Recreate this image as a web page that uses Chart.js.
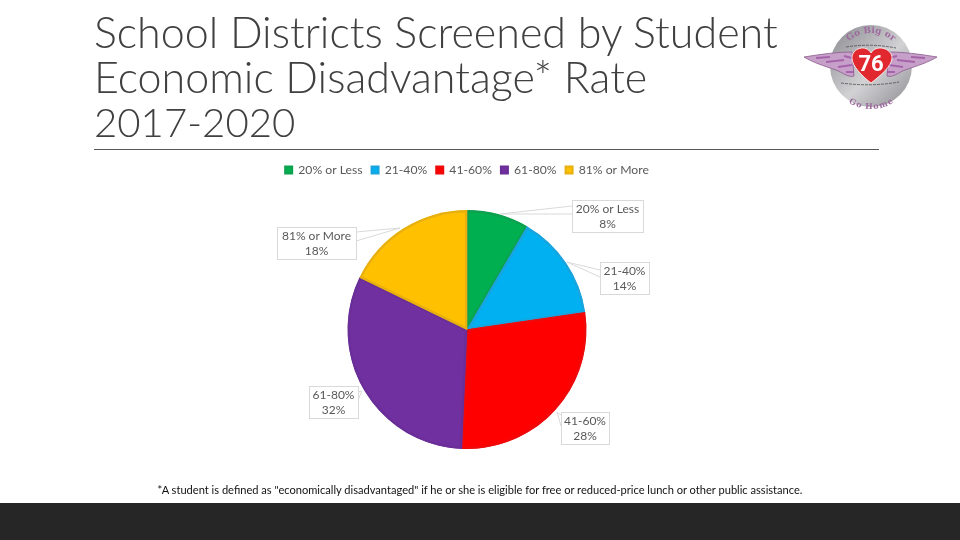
<!DOCTYPE html>
<html>
<head>
  <title>School Districts Screened by Student Economic Disadvantage* Rate 2017-2020</title>
  <script src="https://cdn.jsdelivr.net/npm/chart.js@4/dist/chart.umd.min.js"></script>
  <style>
    html, body { margin: 0; padding: 0; background: #fff; }
    #slide { position: relative; width: 960px; height: 540px; overflow: hidden; font-family: Lato, sans-serif; }
    #heading { position: absolute; left: 94px; top: 10px; margin: 0; font-size: 43px; line-height: 44.5px; font-weight: 300; color: #404040; white-space: nowrap; }
    #heading span { font-size: 40.2px; }
    #rule { position: absolute; left: 94px; top: 149px; width: 785px; height: 1px; background: #595959; }
    #note { position: absolute; left: 0; width: 960px; top: 483px; text-align: center; font-size: 11.1px; color: #111; }
    #band { position: absolute; left: 0; top: 503px; width: 960px; height: 37px; background: #262626; }
    #logo { position: absolute; left: 800px; top: 20px; }
    canvas { position: absolute; left: 0; top: 0; }
  </style>
</head>
<body>
<div id="slide">
  <canvas id="pieChart" width="960" height="540"></canvas>
  <h1 id="heading">School Districts Screened by Student<br>Economic Disadvantage* Rate<br><span>2017-2020</span></h1>
  <div id="rule"></div>
  <svg id="logo" width="140" height="92" viewBox="0 0 140 92">
    <defs>
      <linearGradient id="disc" x1="0" y1="0" x2="1" y2="1">
        <stop offset="0" stop-color="#88888d"/>
        <stop offset="0.55" stop-color="#d2d2d5"/>
        <stop offset="1" stop-color="#8c8c91"/>
      </linearGradient>
      <path id="topArc" d="M 38 46 A 33 33 0 0 1 104 46"/>
      <path id="bottomArc" d="M 34 46 A 37 37 0 0 0 108 46"/>
    </defs>
    <circle cx="71" cy="46" r="41" fill="url(#disc)"/>
    <path d="M 4 37 C 22 34 38 32 52 32 L 54 56 C 48 58 42 52 36 50 C 24 46 12 42 4 37 Z" fill="#c7a0c9" stroke="#8a5a8c" stroke-width="0.8"/>
    <path d="M 137 37 C 119 34 103 32 89 32 L 87 56 C 93 58 99 52 105 50 C 117 46 129 42 137 37 Z" fill="#c7a0c9" stroke="#8a5a8c" stroke-width="0.8"/>
    <g stroke="#9a4fa0" stroke-width="2" fill="none" opacity="0.75">
      <path d="M 16 38 L 30 37 M 26 42 L 44 40 M 38 47 L 52 45 M 44 36 L 52 38 M 46 52 L 54 52"/>
      <path d="M 125 38 L 111 37 M 115 42 L 97 40 M 103 47 L 89 45 M 97 36 L 89 38 M 95 52 L 87 52"/>
    </g>
    <path d="M 71 63 C 62 56 52 46 52 38 C 52 28 66 24 71 33 C 76 24 92 28 92 38 C 92 46 80 56 71 63 Z" fill="#e0282e" stroke="#fff" stroke-width="0.8"/>
    <text x="71" y="51" text-anchor="middle" font-family="Roboto" font-weight="700" font-size="22" fill="#fff">76</text>
    <g stroke="#4a4a4a" stroke-width="0.8" stroke-dasharray="3 1" fill="none">
      <path d="M 46 27 Q 71 23 96 28"/>
      <path d="M 41 63 Q 71 67 99 62"/>
    </g>
    <text font-family="DejaVu Serif" font-weight="700" font-size="9" fill="#9d6a9f"><textPath href="#topArc" startOffset="50%" text-anchor="middle">Go Big or</textPath></text>
    <text font-family="DejaVu Serif" font-weight="700" font-size="8" fill="#9d6a9f" dy="6"><textPath href="#bottomArc" startOffset="50%" text-anchor="middle">Go Home</textPath></text>
  </svg>
  <div id="note">*A student is defined as "economically disadvantaged" if he or she is eligible for free or reduced-price lunch or other public assistance.</div>
  <div id="band"></div>
</div>

<script>
  const categories = ['20% or Less', '21-40%', '41-60%', '61-80%', '81% or More'];
  const shares = [8.4, 14.3, 28, 31.5, 17.8];

  const sliceColors = ['#00B050', '#00B0F0', '#FF0000', '#7030A0', '#FFC000'];
  const sliceEdges = ['#0DA04F', '#1AA3DC', '#EE0A0A', '#6A2E98', '#E8B00E'];

  // label boxes, page pixels: box x, y, w, h and the callout wedge (tip, then two base points)
  const callouts = [
    { box: [572, 200, 71, 32], wedge: [[500, 214], [572, 206], [572, 214]] },
    { box: [600, 262, 49, 32], wedge: [[567, 262], [600, 270], [600, 277]] },
    { box: [561, 412, 48, 32], wedge: [[557, 412], [561, 415], [561, 426]] },
    { box: [309, 386, 49, 32], wedge: [[362, 391], [358, 392], [358, 400]] },
    { box: [277, 227, 79, 32], wedge: [[400, 228], [356, 232], [356, 241]] }
  ];

  const calloutPlugin = {
    id: 'callouts',
    afterDatasetsDraw(chart) {
      const c = chart.ctx;
      c.save();
      c.font = '12px Lato';
      c.textAlign = 'center';
      c.textBaseline = 'middle';
      callouts.forEach(function (item, i) {
        const b = item.box, w = item.wedge;
        c.fillStyle = '#fff';
        c.strokeStyle = '#D9D9D9';
        c.lineWidth = 1;
        c.beginPath();
        c.moveTo(w[1][0], w[1][1]);
        c.lineTo(w[0][0], w[0][1]);
        c.lineTo(w[2][0], w[2][1]);
        c.stroke();
        c.fillRect(b[0], b[1], b[2], b[3]);
        c.strokeRect(b[0] + 0.5, b[1] + 0.5, b[2], b[3]);
        c.fillStyle = '#595959';
        c.fillText(categories[i], b[0] + b[2] / 2, b[1] + 9);
        c.fillText(Math.round(shares[i]) + '%', b[0] + b[2] / 2, b[1] + 24);
      });
      c.restore();
    }
  };

  new Chart(document.getElementById('pieChart'), {
    type: 'pie',
    data: {
      labels: categories,
      datasets: [{
        data: shares,
        backgroundColor: sliceColors,
        borderColor: sliceEdges,
        borderWidth: 2,
        borderAlign: 'inner',
        radius: 119.5
      }]
    },
    options: {
      responsive: false,
      animation: false,
      layout: { padding: { top: 155, bottom: 67, left: 0, right: 26 } },
      plugins: {
        tooltip: { enabled: false },
        legend: {
          position: 'top',
          labels: {
            boxWidth: 7,
            boxHeight: 7,
            padding: 9,
            color: '#595959',
            font: { family: 'Lato', size: 12.2 }
          }
        }
      }
    },
    plugins: [calloutPlugin]
  });
</script>
</body>
</html>
